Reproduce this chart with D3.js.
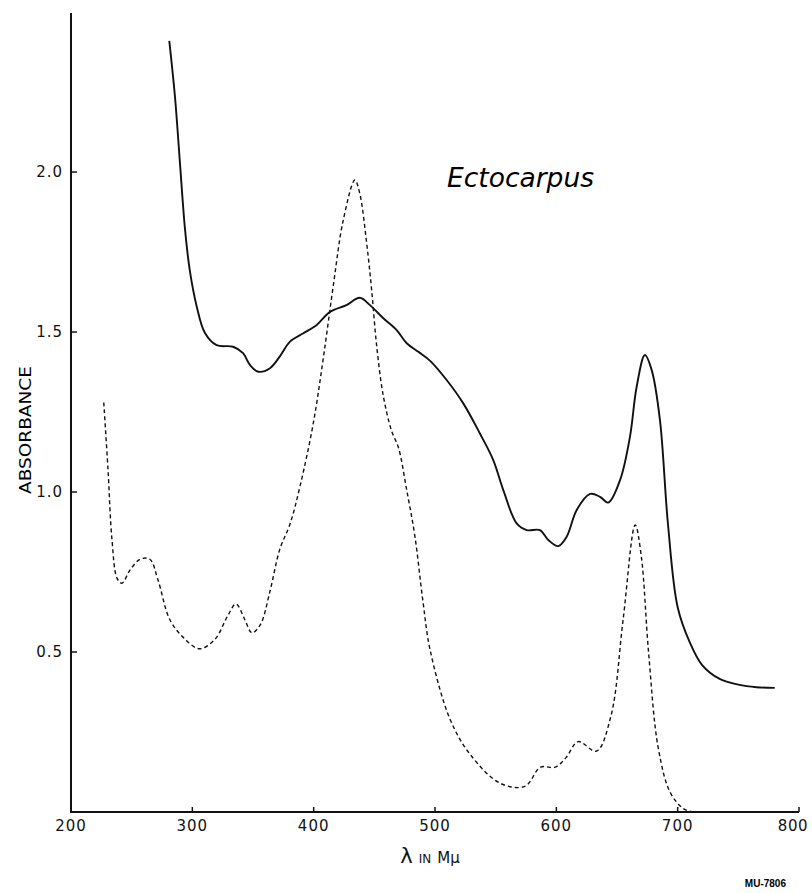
<!DOCTYPE html>
<html lang="en">
<head>
  <meta charset="UTF-8">
  <title>Ectocarpus absorbance</title>
  <script src="https://d3js.org/d3.v7.min.js"></script>
  <style>
    body { margin: 0; background: white; }
    .tick-label { font-family: "DejaVu Sans", sans-serif; font-size: 15px; fill: #111; letter-spacing: 1px; }
    .solid { fill: none; stroke: #111; stroke-width: 1.9px; }
    .dashed { fill: none; stroke: #111; stroke-width: 1.4px; stroke-dasharray: 4 3; }
  </style>
</head>
<body>
<svg width="812" height="893"></svg>
<script>
  // wavelength (m\u03bc) / absorbance
  var solidWl = [281, 285.7, 289.8, 294, 298, 303.6, 310.4, 320, 333.6, 341.8, 347.5, 354.4, 364, 372, 380.5,
    391.5, 402.5, 413.5, 427, 438, 446.4, 457.4, 468.4, 476.7, 486.3, 496, 509.6, 523.3, 537, 548, 556.3,
    567.3, 575.6, 586.5, 593.4, 601.6, 608.5, 616.8, 627.8, 636, 642.8, 652.5, 660.7, 666.2, 673, 678.6,
    685.4, 692, 700, 710, 720, 735, 750, 765, 780];
  var solidAbs = [2.41, 2.235, 2.028, 1.82, 1.69, 1.58, 1.497, 1.459, 1.454, 1.434, 1.397, 1.376, 1.387, 1.423, 1.47,
    1.496, 1.522, 1.563, 1.584, 1.607, 1.584, 1.543, 1.506, 1.465, 1.438, 1.41, 1.35, 1.277, 1.183, 1.1, 1.006,
    0.902, 0.881, 0.881, 0.85, 0.831, 0.86, 0.944, 0.994, 0.985, 0.967, 1.037, 1.173, 1.329, 1.428, 1.381,
    1.225, 0.9, 0.64, 0.53, 0.46, 0.415, 0.398, 0.39, 0.388];

  var dashWl = [227, 230.5, 233.8, 238, 242, 248.6, 257, 265, 271.7, 281.6, 294, 306, 318.7, 329.4, 336, 343.4,
    349, 356, 364, 372, 380.5, 388.7, 399.7, 408, 416, 424.4, 434, 438, 443.7, 447.8, 452, 457.4, 464.3,
    469.8, 476.7, 483.5, 490, 496, 512.4, 529, 553.6, 574, 587, 599, 608, 618, 633, 645, 655, 665,
    670, 676, 684, 694, 705, 713];
  var dashAbs = [1.28, 1.07, 0.85, 0.73, 0.715, 0.756, 0.79, 0.79, 0.725, 0.6, 0.54, 0.51, 0.54, 0.615, 0.65, 0.6,
    0.56, 0.585, 0.69, 0.82, 0.9, 1.017, 1.215, 1.42, 1.64, 1.85, 1.975, 1.933, 1.777, 1.631, 1.454, 1.3, 1.19,
    1.14, 1.006, 0.86, 0.66, 0.506, 0.29, 0.18, 0.09, 0.08, 0.14, 0.14, 0.17, 0.22, 0.19, 0.3, 0.6, 0.897,
    0.8, 0.5, 0.2, 0.06, 0.01, 0.0];

  var xTicks = [200, 300, 400, 500, 600, 700, 800];
  var yTicks = [0.5, 1.0, 1.5, 2.0];

  var svg = d3.select("svg");

  var x = d3.scaleLinear().domain([200, 800]).range([71, 799]);
  var y = d3.scaleLinear().domain([0, 2.497]).range([812, 13]);

  // axes
  svg.append("line").attr("x1", x(200)).attr("x2", x(200)).attr("y1", y(2.497)).attr("y2", y(0))
    .attr("stroke", "#111").attr("stroke-width", 2);
  svg.append("line").attr("x1", x(200) - 1).attr("x2", x(800)).attr("y1", y(0)).attr("y2", y(0))
    .attr("stroke", "#111").attr("stroke-width", 2);

  svg.selectAll(".ytick").data(yTicks).enter().append("line")
    .attr("x1", x(200)).attr("x2", x(200) + 6)
    .attr("y1", d => y(d)).attr("y2", d => y(d))
    .attr("stroke", "#111").attr("stroke-width", 1.5);
  svg.selectAll(".ylab").data(yTicks).enter().append("text")
    .attr("class", "tick-label")
    .attr("x", 63).attr("y", d => y(d) + 5)
    .attr("text-anchor", "end")
    .text(d => d.toFixed(1));

  svg.selectAll(".xtick").data(xTicks.slice(1)).enter().append("line")
    .attr("x1", d => x(d)).attr("x2", d => x(d))
    .attr("y1", y(0)).attr("y2", y(0) - 5)
    .attr("stroke", "#111").attr("stroke-width", 1.5);
  // last label sits flush with the right edge, as in the original
  svg.selectAll(".xlab").data(xTicks).enter().append("text")
    .attr("class", "tick-label")
    .attr("x", d => d === 800 ? 808 : x(d)).attr("y", 831)
    .attr("text-anchor", d => d === 800 ? "end" : "middle")
    .style("letter-spacing", d => d === 800 ? "0.5px" : null)
    .text(d => d);

  // axis titles
  svg.append("text")
    .attr("transform", "translate(31,430) rotate(-90)")
    .attr("text-anchor", "middle")
    .attr("font-family", "'DejaVu Sans Condensed', 'Liberation Sans Narrow', sans-serif")
    .attr("font-size", 15)
    .attr("textLength", 128).attr("lengthAdjust", "spacingAndGlyphs")
    .text("ABSORBANCE");

  var xt = svg.append("text")
    .attr("x", 430).attr("y", 863)
    .attr("text-anchor", "middle")
    .attr("font-family", "'DejaVu Sans', sans-serif")
    .attr("fill", "#111");
  xt.append("tspan").attr("font-size", 21).text("\u03bb");
  xt.append("tspan").attr("font-size", 12).attr("dx", 6).text("IN");
  xt.append("tspan").attr("font-size", 15).attr("dx", 6).text("M\u03bc");

  svg.append("text")
    .attr("x", 447).attr("y", 187)
    .attr("font-family", "'DejaVu Sans', sans-serif")
    .attr("font-style", "italic")
    .attr("font-weight", 300)
    .attr("font-size", 27)
    .attr("textLength", 147).attr("lengthAdjust", "spacingAndGlyphs")
    .text("Ectocarpus");

  svg.append("text")
    .attr("x", 786).attr("y", 887)
    .attr("text-anchor", "end")
    .attr("font-family", "'Liberation Sans Narrow', 'Liberation Sans', sans-serif")
    .attr("font-weight", "bold")
    .attr("font-size", 10)
    .text("MU-7806");

  // curves
  var line = d3.line()
    .x(d => x(d[0]))
    .y(d => y(d[1]))
    .curve(d3.curveCatmullRom.alpha(0.5));

  svg.append("path")
    .datum(d3.zip(solidWl, solidAbs))
    .attr("class", "solid")
    .attr("d", line);

  svg.append("path")
    .datum(d3.zip(dashWl, dashAbs))
    .attr("class", "dashed")
    .attr("d", line);
</script>
</body>
</html>
